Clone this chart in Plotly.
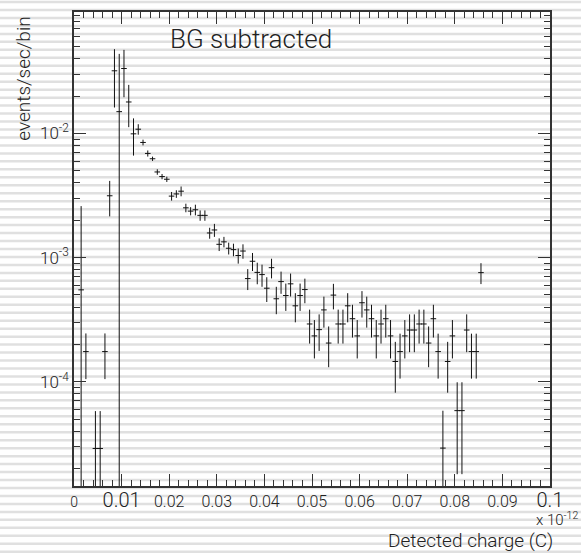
import plotly.graph_objects as go

# ---- data (bin centres in units of 1e-12 C, rate in events/sec/bin) ----
charge = [0.0015, 0.0025, 0.0045, 0.0055, 0.0065, 0.0075, 0.0085, 0.0095, 0.0105, 0.0115,
          0.0125, 0.0135, 0.0145, 0.0155, 0.0165, 0.0175, 0.0185, 0.0195, 0.0205, 0.0215,
          0.0225, 0.0235, 0.0245, 0.0255, 0.0265, 0.0275, 0.0285, 0.0295, 0.0305, 0.0315,
          0.0325, 0.0335, 0.0345, 0.0355, 0.0365, 0.0375, 0.0385, 0.0395, 0.0405, 0.0415,
          0.0425, 0.0435, 0.0445, 0.0455, 0.0465, 0.0475, 0.0485, 0.0495, 0.0505, 0.0515,
          0.0525, 0.0535, 0.0545, 0.0555, 0.0565, 0.0575, 0.0585, 0.0595, 0.0605, 0.0615,
          0.0625, 0.0635, 0.0645, 0.0655, 0.0665, 0.0675, 0.0685, 0.0695, 0.0705, 0.0715,
          0.0725, 0.0735, 0.0745, 0.0755, 0.0765, 0.0775, 0.0785, 0.0795, 0.0805, 0.0815,
          0.0825, 0.0835, 0.0845, 0.0855]
rate = [5.5e-4, 1.75e-4, 2.9e-5, 2.9e-5, 1.75e-4, 3.15e-3, 0.0320, 0.0150, 0.0334, 0.01795,
        0.00994, 0.01083, 0.00847, 0.00691, 0.00626, 0.00490, 0.00450, 0.00428, 0.00313, 0.00326,
        0.00343, 0.00252, 0.00237, 0.00243, 0.00219, 0.00219, 0.00158, 0.00167, 0.00128, 0.00134,
        0.00119, 0.00116, 0.00104, 0.00113, 6.78e-4, 9.35e-4, 7.6e-4, 7.3e-4, 5.67e-4, 8.3e-4,
        4.66e-4, 6.41e-4, 4.95e-4, 6.15e-4, 4.09e-4, 4.95e-4, 5.53e-4, 2.92e-4, 2.34e-4, 2.63e-4,
        3.79e-4, 2.05e-4, 4.99e-4, 2.92e-4, 2.92e-4, 4.09e-4, 3.22e-4, 2.34e-4, 4.33e-4, 3.79e-4,
        3.22e-4, 2.34e-4, 2.92e-4, 3.22e-4, 2.34e-4, 1.456e-4, 1.75e-4, 2.34e-4, 2.61e-4, 2.61e-4,
        2.92e-4, 2.92e-4, 2.05e-4, 3.22e-4, 1.75e-4, 2.92e-5, 1.456e-4, 2.34e-4, 5.85e-5, 5.85e-5,
        2.61e-4, 1.75e-4, 1.75e-4, 7.57e-4]
rate_err = [2.05e-3, 7.0e-5, 2.9e-5, 2.9e-5, 7.0e-5, 1.0e-3, 0.0158, 0.0288, 0.0138, 0.0067,
            0.0033, 0.00105, 0.00045, 0.00039, 0.00025, 0.00025, 0.00022, 0.00021, 0.00025, 0.00023,
            0.00031, 0.00020, 0.00018, 0.00024, 0.00021, 0.00021, 0.00016, 0.00020, 0.00015, 0.00013,
            0.00013, 0.000135, 0.000145, 0.00015, 1.3e-4, 1.55e-4, 1.5e-4, 1.48e-4, 1.28e-4, 1.5e-4,
            1.16e-4, 1.3e-4, 1.23e-4, 1.29e-4, 1.08e-4, 1.23e-4, 1.24e-4, 8.9e-5, 8.0e-5, 8.6e-5,
            1.06e-4, 7.4e-5, 1.16e-4, 8.9e-5, 8.9e-5, 1.08e-4, 9.5e-5, 8.0e-5, 1.04e-4, 1.06e-4,
            9.5e-5, 8.0e-5, 8.9e-5, 9.5e-5, 8.0e-5, 6.4e-5, 6.9e-5, 8.0e-5, 8.8e-5, 8.8e-5,
            8.9e-5, 8.9e-5, 7.4e-5, 9.5e-5, 6.9e-5, 2.92e-5, 6.4e-5, 8.0e-5, 4.05e-5, 4.05e-5,
            8.8e-5, 6.9e-5, 6.9e-5, 1.45e-4]

x_tickvals = [0, 0.01, 0.02, 0.03, 0.04, 0.05, 0.06, 0.07, 0.08, 0.09, 0.1]
x_ticklabels = ["0", "0.01", "0.02", "0.03", "0.04", "0.05", "0.06", "0.07", "0.08", "0.09", "0.1"]
x_labelsizes = [14, 20, 16, 16, 16, 16, 16, 16, 16, 16, 20]
y_tickvals = [1e-4, 1e-3, 1e-2]
y_ticklabels = ["10<sup>-4</sup>", "10<sup>-3</sup>", "10<sup>-2</sup>"]

# ---- geometry ----
W, H = 581, 554
L, R, T, B = 74, 31, 10, 68
PW, PH = W - L - R, H - T - B

def px_x(x):
    return (x - L) / PW

def px_y(y):
    return (H - B - y) / PH

FONT = "Roboto, Liberation Sans, Arial, sans-serif"
FW = 300
AXC = "#333333"

fig = go.Figure()
fig.add_trace(go.Scatter(
    x=charge, y=rate, mode="markers",
    marker=dict(symbol="line-ew", size=4, color="#111", line=dict(width=1, color="#111")),
    error_y=dict(type="data", array=rate_err, visible=True, thickness=1, width=0, color="#111"),
    showlegend=False, hoverinfo="x+y",
))

# background stripes
shapes = []
for yp in range(0, H + 1, 8):
    shapes.append(dict(type="line", xref="paper", yref="paper",
                       x0=px_x(-5), x1=px_x(W + 5), y0=px_y(yp), y1=px_y(yp),
                       line=dict(color="#e0e0e0", width=2.5), layer="below"))

minor_x = [i / 500 for i in range(0, 51) if i % 5 != 0]
minor_y = [k * 10 ** e for e in range(-5, -1) for k in range(2, 10)]

fig.update_layout(
    width=W, height=H,
    margin=dict(l=L, r=R, t=T, b=B, pad=0),
    paper_bgcolor="white", plot_bgcolor="white",
    font=dict(family=FONT, color="#222", weight=FW),
    shapes=shapes,
    xaxis=dict(range=[0, 0.1], showgrid=False, zeroline=False,
               showline=True, linecolor=AXC, linewidth=1.5, mirror="allticks",
               ticks="inside", ticklen=12, tickwidth=1, tickcolor=AXC,
               tickmode="array", tickvals=x_tickvals,
               ticktext=[f'<span style="font-size:{s}px">{t}</span>' for t, s in zip(x_ticklabels, x_labelsizes)],
               tickfont=dict(size=16, color="#222", family=FONT, weight=FW),
               minor=dict(ticks="inside", ticklen=6, tickwidth=1, tickcolor=AXC,
                          tickmode="array", tickvals=minor_x, showgrid=False)),
    yaxis=dict(type="log", range=[-4.840, -1.021], showgrid=False, zeroline=False,
               showline=True, linecolor=AXC, linewidth=1.5, mirror="allticks",
               ticks="inside", ticklen=12, tickwidth=1, tickcolor=AXC,
               tickmode="array", tickvals=y_tickvals, ticktext=y_ticklabels,
               tickfont=dict(size=17, color="#222", family=FONT, weight=FW),
               minor=dict(ticks="inside", ticklen=6, tickwidth=1, tickcolor=AXC,
                          tickmode="array", tickvals=minor_y, showgrid=False)),
    annotations=[
        dict(text="BG subtracted", xref="paper", yref="paper",
             x=px_x(168), y=px_y(37), xanchor="left", yanchor="middle",
             showarrow=False, font=dict(size=26, color="#222", family=FONT, weight=FW)),
        dict(text="events/sec/bin", xref="paper", yref="paper", textangle=-90,
             x=px_x(24), y=px_y(77), xanchor="center", yanchor="middle",
             showarrow=False, font=dict(size=19, color="#222", family=FONT, weight=FW)),
        dict(text="Detected charge (C)", xref="paper", yref="paper",
             x=px_x(555), y=px_y(541), xanchor="right", yanchor="middle",
             showarrow=False, font=dict(size=19, color="#222", family=FONT, weight=FW)),
        dict(text="x 10<sup>-12</sup>", xref="paper", yref="paper",
             x=px_x(580), y=px_y(519), xanchor="right", yanchor="middle",
             showarrow=False, font=dict(size=15, color="#222", family=FONT, weight=FW)),
    ],
)

fig.write_html("out.html", config={"displayModeBar": False},
               post_script="document.body.style.margin='0';document.body.style.overflow='hidden';")
